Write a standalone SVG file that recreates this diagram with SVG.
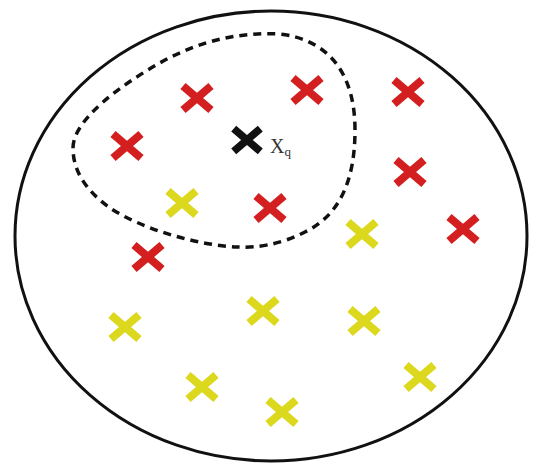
<svg xmlns="http://www.w3.org/2000/svg" width="542" height="466" viewBox="0 0 542 466">
<defs>
<style>
.x{stroke-width:8;stroke-linecap:butt;fill:none}
.r{stroke:#d31f1f}
.y{stroke:#dcd81e}
.k{stroke:#111}
.lbl{font-family:"Liberation Serif",serif;fill:#333}
</style>
<path id="cross" d="M-14,-12 L14,12 M-14,12 L14,-12"/>
</defs>
<rect width="542" height="466" fill="#fff"/>
<ellipse cx="271" cy="236" rx="256" ry="225" fill="none" stroke="#111" stroke-width="3"/>
<g id="boundary">
<path d="M73,148 C73,120 120,85 165,60 C200,42 235,32 280,34 C330,40 355,75 355,130 C355,180 340,215 305,232 C280,245 255,248 237,247 C195,245 140,228 110,208 C85,190 73,170 73,148 Z" fill="none" stroke="#111" stroke-width="3.5" stroke-dasharray="8,6"/>
</g>
<g id="red-points" class="x r">
<use href="#cross" transform="translate(197,98)"/>
<use href="#cross" transform="translate(307,90)"/>
<use href="#cross" transform="translate(408,92)"/>
<use href="#cross" transform="translate(127,146)"/>
<use href="#cross" transform="translate(410,172)"/>
<use href="#cross" transform="translate(270,208)"/>
<use href="#cross" transform="translate(463,229)"/>
<use href="#cross" transform="translate(148,257)"/>
</g>
<g id="yellow-points" class="x y">
<use href="#cross" transform="translate(182,203)"/>
<use href="#cross" transform="translate(362,234)"/>
<use href="#cross" transform="translate(125,327)"/>
<use href="#cross" transform="translate(263,311)"/>
<use href="#cross" transform="translate(364,321)"/>
<use href="#cross" transform="translate(420,377)"/>
<use href="#cross" transform="translate(202,387)"/>
<use href="#cross" transform="translate(282,412)"/>
</g>
<g id="query">
<use href="#cross" class="x k" transform="translate(247,140) scale(0.95)"/>
<text class="lbl" x="270" y="153" font-size="20">X<tspan font-size="13" dy="3">q</tspan></text>
</g>
</svg>
